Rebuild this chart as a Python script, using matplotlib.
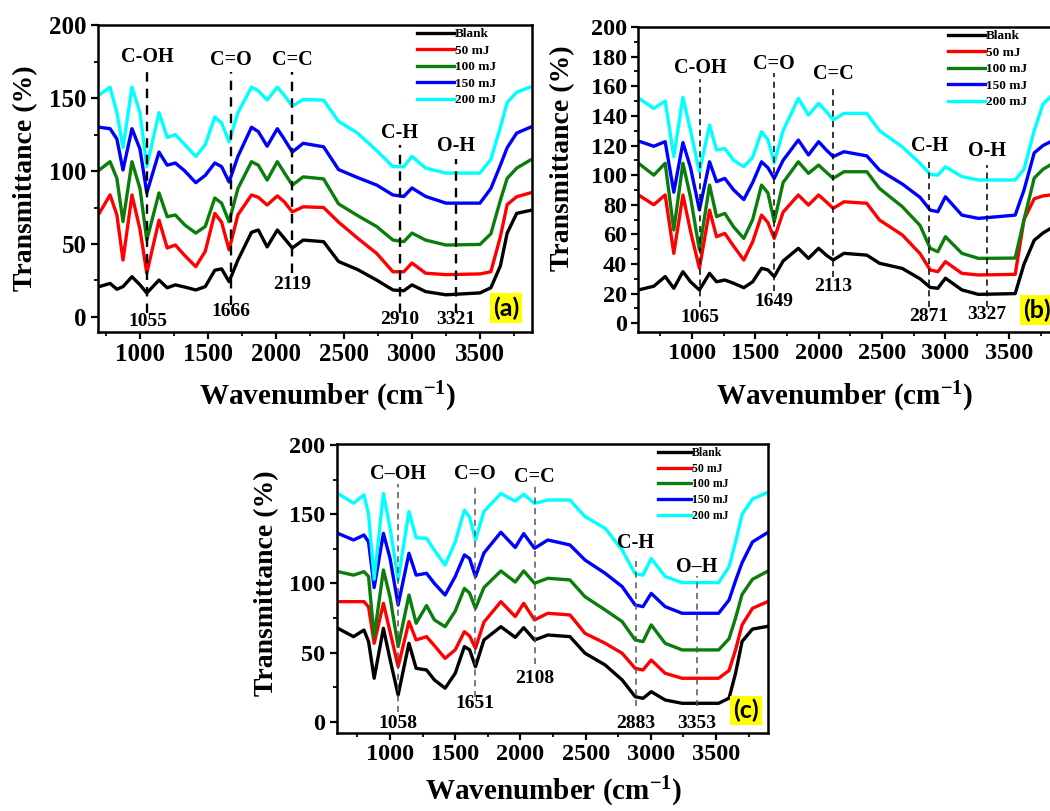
import numpy as np
import matplotlib
matplotlib.use('Agg')
import matplotlib.pyplot as plt
from matplotlib.ticker import MultipleLocator

plt.rcParams['font.family'] = ['Liberation Serif', 'DejaVu Serif']
plt.rcParams['font.weight'] = 'bold'
plt.rcParams['axes.labelweight'] = 'bold'
plt.rcParams['mathtext.fontset'] = 'custom'
plt.rcParams['mathtext.rm'] = 'Liberation Serif:bold'
plt.rcParams['mathtext.it'] = 'Liberation Serif:bold'
plt.rcParams['mathtext.bf'] = 'Liberation Serif:bold'

labels = ['Blank', '50 mJ', '100 mJ', '150 mJ', '200 mJ']
colors = ['black', '#ff0000', '#0b7d0b', '#0000ff', '#00ffff']

# ---- panel (a) ----
wn_a = [700, 780, 830, 875, 941, 1000, 1050, 1140, 1200, 1260, 1330, 1410, 1480,
        1550, 1600, 1655, 1720, 1820, 1870, 1935, 2010, 2060, 2120, 2200, 2350,
        2460, 2600, 2740, 2860, 2940, 3000, 3100, 3250, 3500, 3580, 3650, 3700,
        3770, 3870]
blank_a = [20.8, 23, 19, 20.8, 27.6, 22, 16.4, 25.3, 20, 22, 20.5, 18.5, 20.8,
           32, 33, 24.2, 39, 58, 59.6, 48, 59.6, 54, 47.3, 52.7, 51.6,
           38, 32.5, 25.3, 18.5, 18, 22, 17.4, 15.2, 16.5, 20, 35, 57.5, 71, 73]
mj50_a = [71, 83.6, 70, 39, 83.6, 60, 30, 66.4, 47.3, 49.3, 42, 34.5, 45,
          71, 65, 46, 70, 83.6, 82, 76.7, 83, 79, 72, 75.5, 75,
          65, 54, 43.6, 31, 31, 37, 30, 29, 29.5, 31, 55, 77, 82.4, 85]
mj100_a = [100.7, 106.4, 95, 65.3, 106.4, 88, 52.7, 85, 68.7, 69.9, 63, 57.5, 62,
           81.5, 78, 65.3, 88, 106.4, 104, 93.8, 106.4, 99, 90.4, 96, 94.6,
           77.5, 69.5, 62, 52.7, 51.6, 57.5, 52.7, 49.3, 49.7, 57, 80, 95, 102, 107.5]
mj150_a = [130, 129, 122, 100.7, 129, 115, 85, 113, 104, 105.5, 100, 92, 97,
           105.5, 103, 92.5, 110, 130, 127, 117, 129, 122, 113, 119, 116.6,
           101, 95.5, 90.4, 83.6, 82.6, 88.4, 82.6, 78, 78, 88, 104, 116, 126, 130]
mj200_a = [152, 157.5, 140, 116, 157.5, 140, 103, 140, 123, 125, 118, 110, 118,
           137, 133, 120, 140, 157.5, 155, 148.6, 157.5, 152, 144.5, 149, 148.6,
           134, 126, 114, 103, 103, 110, 102, 98.6, 98.6, 108, 130, 147, 154, 157.5]

# ---- panel (b) ----
wn_b = [580, 700, 790, 858, 930, 990, 1060, 1140, 1195, 1260, 1330, 1410, 1480,
        1550, 1600, 1650, 1720, 1840, 1920, 2000, 2060, 2115, 2200, 2380, 2480,
        2660, 2800, 2880, 2940, 3000, 3130, 3260, 3550, 3620, 3700, 3770, 3830, 3900]
blank_b = [22.5, 25, 31.5, 23.6, 34.8, 28, 22.5, 33.7, 28, 29.2, 27, 24, 28,
           37.1, 36, 31.5, 42, 50.6, 43.8, 50.6, 46, 42.7, 47.2, 46, 40.5,
           37, 30, 24.2, 23.6, 30.4, 22.5, 19.5, 20, 40, 56, 61, 64, 66]
mj50_b = [86.6, 80, 86.6, 47.2, 86.6, 62, 37.1, 76.4, 58.4, 60.7, 52, 42.7, 55,
          73, 68, 57.3, 75, 86.6, 79.8, 86.6, 82, 77.6, 82, 81, 69.7,
          59.6, 47, 36, 34.8, 41.6, 33.7, 32.6, 33, 70, 84, 86, 86.6, 88]
mj100_b = [108, 100, 108, 63, 108, 85, 49.5, 93.3, 72, 74.2, 65, 57.3, 70,
           93.3, 88, 68.6, 95, 109, 101.2, 106.8, 102, 97.8, 102.3, 102.3, 91,
           78.7, 66, 50.6, 48.3, 58.4, 47.2, 43.8, 44, 70, 98, 104, 107, 110]
mj150_b = [123, 119.5, 122.6, 88.5, 122, 105, 76.5, 109, 95.6, 97.8, 90, 83.5, 95,
           109, 105, 97.8, 110, 123.7, 113.6, 122.6, 117, 112.5, 115.8, 113, 103.4,
           94, 85, 76.4, 75.3, 85.4, 73, 70.8, 73, 90, 115, 120, 122.6, 125]
mj200_b = [152, 145, 150, 112.5, 152.5, 130, 102.3, 133.8, 117, 118, 110, 105.7, 112,
           129.3, 124, 108.4, 130, 151.8, 140.6, 148.5, 143, 137.2, 141.7, 141.7, 130,
           119, 108, 100.5, 100, 105.7, 99, 96.7, 96.7, 104, 130, 148, 153, 155]

# ---- panel (c) ----
wn_c = [600, 720, 800, 835, 878, 949, 1000, 1062, 1145, 1200, 1280, 1340, 1422,
        1500, 1570, 1610, 1655, 1720, 1850, 1960, 2025, 2108, 2210, 2380, 2495,
        2650, 2780, 2880, 2940, 3003, 3110, 3240, 3520, 3600, 3650, 3700, 3780, 3900]
blank_c = [67.5, 61.5, 66.3, 58, 31.4, 67.5, 45, 19.3, 56.7, 38.6, 37.4, 30.2, 24.2,
           35, 54.3, 52, 39.8, 59.1, 68.7, 61, 68, 59.1, 62.7, 61.5, 49.5,
           41, 30.2, 18.1, 16.9, 21.7, 15.7, 13.3, 13.3, 17, 35, 58, 67, 69]
mj50_c = [86.8, 86.8, 86.8, 83, 56.7, 85.6, 65, 39.8, 72.4, 59.1, 61.5, 55, 45.8,
          52, 65.1, 62, 53.1, 72, 86.8, 76, 85.6, 73.6, 78.4, 77.2, 63.9,
          56.7, 49.5, 38.6, 37.4, 44.6, 35, 31.4, 31.4, 37, 52, 70, 82, 87]
mj100_c = [108.5, 106, 108.5, 105, 61.5, 109.7, 90, 54.3, 91.6, 71.2, 84, 73.6, 68.7,
           80, 96.4, 93, 82, 97, 109, 101, 109, 100.1, 103.7, 102.5, 90.4,
           80.8, 72.4, 59.1, 57.9, 70, 56.7, 51.9, 51.9, 60, 75, 92, 103, 109]
mj150_c = [136.2, 131.4, 135, 130, 97, 136.2, 118, 84.4, 121.8, 106, 107.3, 100, 91.6,
           105, 120.6, 118, 104.9, 122, 137, 126, 136, 125.4, 131.4, 127.8, 116.9,
           107.3, 97.7, 84.4, 83.2, 92.8, 83.2, 78.4, 78.4, 88, 102, 115, 130, 137]
mj200_c = [165, 158, 164, 150, 103, 165, 140, 102.5, 152, 133, 132.6, 124, 113.3,
           130, 153, 148, 131.4, 152, 165, 159.5, 164.5, 157.9, 160.3, 160.3, 148.3,
           139.8, 124.2, 107, 106, 118, 105, 100.6, 100.6, 112, 130, 150, 161, 166]

# band assignments
bands = ['C-OH', 'C=O', 'C=C', 'C-H', 'O-H']
peaks_a = [1055, 1666, 2119, 2910, 3321]
peaks_b = [1065, 1649, 2113, 2871, 3327]
peaks_c = [1058, 1651, 2108, 2883, 3353]
bands_c = ['C\u2013OH', 'C=O', 'C=C', 'C-H', 'O\u2013H']

fig = plt.figure(figsize=(10.5, 8.11), dpi=100)


def panel(rect, wn, series, xlim, ylim, ystep, yminor, peaks, names,
          name_y, top_y, bot_y, num_y, dash_lw, dash_col, tag, tag_xy,
          leg_xy, leg_fs, ylab_xy, xlab_xy, tick_fs):
    ax = fig.add_axes(rect)
    for s, c, lab in zip(series, colors, labels):
        ax.plot(wn, s, color=c, lw=2.4, label=lab, solid_joinstyle='round')
    for p, n, ny, t, b, q in zip(peaks, names, name_y, top_y, bot_y, num_y):
        ax.plot([p, p], [b, t], ls=(0, (4, 3)), color=dash_col, lw=dash_lw)
        ax.text(p, ny, n, ha='center', va='center', fontsize=14.5)
        ax.text(p, q, str(p), ha='center', va='center', fontsize=14)
    ax.text(tag_xy[0], tag_xy[1], tag, ha='center', va='center', fontsize=18,
            fontweight='bold', family=['Lato', 'DejaVu Sans'],
            bbox=dict(boxstyle='square,pad=0.12', fc='#ffff00', ec='none'))
    ax.set_xlim(*xlim)
    ax.set_ylim(*ylim)
    ax.xaxis.set_minor_locator(MultipleLocator(250))
    ax.yaxis.set_minor_locator(MultipleLocator(yminor))
    ax.set_xticks(np.arange(1000, 3501, 500))
    ax.set_yticks(np.arange(0, 201, ystep))
    ax.tick_params(which='major', direction='out', length=5, width=1.6,
                   labelsize=tick_fs, pad=3)
    ax.tick_params(which='minor', direction='out', length=3, width=1.3)
    for sp in ax.spines.values():
        sp.set_linewidth(1.8)
    ax.set_ylabel('Transmittance (%)', fontsize=20, fontweight='bold')
    ax.yaxis.set_label_coords(*ylab_xy)
    ax.set_xlabel(r'Wavenumber (cm$^{-1}$)', fontsize=21, fontweight='bold')
    ax.xaxis.set_label_coords(*xlab_xy)
    ax.legend(loc='upper left', bbox_to_anchor=leg_xy, frameon=False,
              fontsize=leg_fs, handlelength=2.8, handletextpad=0.05,
              labelspacing=0.32, borderpad=0, borderaxespad=0)
    return ax


panel([0.0933, 0.5906, 0.4133, 0.3785], wn_a,
      [blank_a, mj50_a, mj100_a, mj150_a, mj200_a],
      (691, 3882), (-10.3, 200), 50, 25, peaks_a, bands,
      [178, 176, 176, 126, 117], [170, 168, 168, 118, 108], [3, 8, 30, 3, 3],
      [-3, 4, 22, -2, -2], 1.7, 'black', '(a)', (3690, 6),
      (0.735, 0.99), 9.5, (-0.138, 0.5), (0.529, -0.155), 18)

panel([0.6079, 0.591, 0.4012, 0.3757], wn_b,
      [blank_b, mj50_b, mj100_b, mj150_b, mj200_b],
      (578, 3900), (-5.7, 200), 20, 10, peaks_b, bands,
      [172, 175, 168, 120, 116], [165, 169, 161, 111, 107], [11, 22, 31, 11, 11],
      [4, 14.6, 24.7, 4.5, 5.6], 1.1, 'black', '(b)', (3720, 9),
      (0.735, 0.99), 9.5, (-0.15, 0.57), (0.49, -0.158), 17.5)

panel([0.3207, 0.0958, 0.411, 0.3567], wn_c,
      [blank_c, mj50_c, mj100_c, mj150_c, mj200_c],
      (591, 3901), (-8.4, 200.8), 50, 25, peaks_c, bands_c,
      [179, 179, 177, 129, 112], [172, 171, 172, 120, 105], [7, 18, 42, 11, 11],
      [-1, 13, 31, -1, -1], 1.1, '#555555', '(c)', (3730, 8),
      (0.745, 0.99), 8.5, (-0.134, 0.52), (0.502, -0.145), 17.5)

fig.savefig('out.png', dpi=100)
